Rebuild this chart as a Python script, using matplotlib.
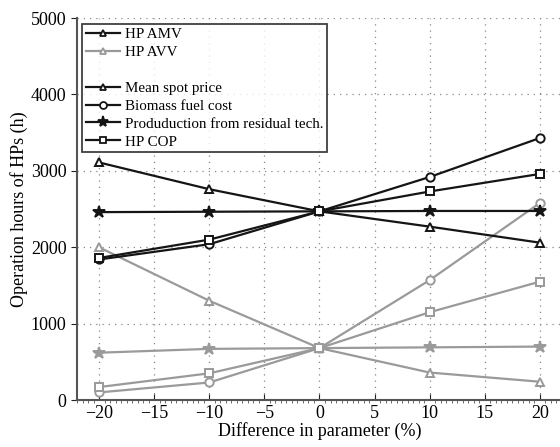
import matplotlib.pyplot as plt
from matplotlib.lines import Line2D
from matplotlib.ticker import MultipleLocator

plt.rcParams['font.family'] = ['Liberation Serif', 'DejaVu Serif']

diff = [-20, -10, 0, 10, 20]   # diferencia en parametro (%)

# HP AMV (negro)
amv_spot = [3110, 2760, 2470, 2270, 2060]
amv_biomass = [1840, 2040, 2470, 2920, 3430]
amv_residual = [2460, 2465, 2470, 2475, 2475]
amv_cop = [1860, 2100, 2470, 2730, 2960]

# HP AVV (gris)
avv_spot = [2000, 1300, 680, 360, 240]
avv_biomass = [100, 230, 680, 1570, 2580]
avv_residual = [620, 670, 680, 690, 700]
avv_cop = [170, 350, 680, 1150, 1550]

negro = '#151515'
gris = '#9a9a9a'

fig = plt.figure(figsize=(5.6, 4.47), dpi=100)
ax = fig.add_axes([0.1375, 0.105, 0.866, 0.8546])

def serie(y, color, marker):
    face = color if marker == '*' else 'white'
    ms = 9 if marker == '*' else 6
    ax.plot(diff, y, color=color, lw=1.6, marker=marker, ms=ms,
            mfc=face, mec=color, mew=1.4)

for col, datos in [(gris, [avv_spot, avv_biomass, avv_residual, avv_cop]),
                   (negro, [amv_spot, amv_biomass, amv_residual, amv_cop])]:
    for y, m in zip(datos, ['^', 'o', '*', 's']):
        serie(y, col, m)

ax.set_xlim(-22, 22)
ax.set_ylim(0, 5000)
ax.xaxis.set_major_locator(MultipleLocator(5))
ax.xaxis.set_minor_locator(MultipleLocator(0.5))
ax.yaxis.set_major_locator(MultipleLocator(1000))
ax.grid(True, which='major', linestyle=(0, (1, 4)), color='#888888', lw=0.9)
ax.tick_params(axis='both', which='major', labelsize=13, direction='in', length=4, color='#222222')
ax.tick_params(axis='x', which='minor', direction='out', length=2, color='#555555')
ax.tick_params(axis='y', which='major', direction='out', length=4)
for s in ['top', 'right']:
    ax.spines[s].set_visible(False)
for s in ['left', 'bottom']:
    ax.spines[s].set_color('#555555')
    ax.spines[s].set_linewidth(1.5)

ax.set_xlabel('Difference in parameter (%)', fontsize=13, labelpad=0)
ax.set_ylabel('Operation hours of HPs (h)', fontsize=13, labelpad=2)

def h(color, marker):
    face = color if marker == '*' else 'white'
    ms = 8 if marker == '*' else 5
    return Line2D([], [], color=color, lw=1.6, marker=marker, ms=ms, mfc=face, mec=color, mew=1.3)

handles = [h(negro, '^'), h(gris, '^'), Line2D([], [], color='none'),
           h(negro, '^'), h(negro, 'o'), h(negro, '*'), h(negro, 's')]
labels = ['HP AMV', 'HP AVV', ' ', 'Mean spot price', 'Biomass fuel cost',
          'Produduction from residual tech.', 'HP COP']
leg = ax.legend(handles, labels, loc='upper left', bbox_to_anchor=(0.01, 0.984),
                fontsize=10.8, frameon=True, fancybox=False, borderpad=0.25,
                handlelength=2.3, handletextpad=0.3, labelspacing=0.29, borderaxespad=0)
leg.get_frame().set_edgecolor('#111111')
leg.get_frame().set_linewidth(1.3)

fig.savefig('out.png', dpi=100)
